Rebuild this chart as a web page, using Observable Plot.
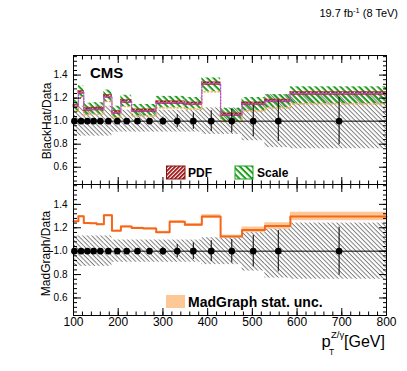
<!DOCTYPE html>
<html><head><meta charset="utf-8">
<script src="https://cdn.jsdelivr.net/npm/d3@7"></script>
<script src="https://cdn.jsdelivr.net/npm/@observablehq/plot@0.6"></script>
<style>
body{margin:0;background:#fff;}
#c{position:relative;width:407px;height:371px;overflow:hidden;font-family:"Liberation Sans",Arial,Helvetica,sans-serif;}
#c > svg{position:absolute;left:0;}
</style></head><body><div id="c"></div>
<script>
// ---- data ----
const binEdges   = [100,111,123,137,152,168,186,206,230,256,285,315,349,387,429,477,528,585,800];
const dataPt     = [102,117,131,145,160,178,198,219,243,270,300,332,368,408,454,502,558,694];
const dataRatio  = [1,1,1,1,1,1,1,1,1,1,1,1,1,1,1,1,1,1];
const dataStat   = [0.005,0.006,0.007,0.008,0.009,0.01,0.012,0.016,0.02,0.023,0.034,0.057,0.071,0.09,0.1,0.134,0.177,0.205];
const dataSyst   = [0.13,0.13,0.13,0.13,0.13,0.13,0.095,0.095,0.095,0.095,0.095,0.095,0.095,0.115,0.115,0.17,0.23,0.24];
const blackhat   = [1.13,1.25,1.10,1.105,1.105,1.215,1.075,1.17,1.09,1.09,1.16,1.16,1.15,1.325,1.055,1.15,1.175,1.24];
const pdfErr     = [0.012,0.012,0.012,0.012,0.012,0.012,0.012,0.012,0.012,0.012,0.012,0.012,0.012,0.012,0.012,0.012,0.012,0.012];
const scaleUp    = [0.055,0.058,0.055,0.055,0.055,0.055,0.055,0.055,0.055,0.055,0.055,0.055,0.055,0.05,0.055,0.055,0.055,0.058];
const scaleDown  = [0.045,0.043,0.045,0.045,0.045,0.045,0.045,0.045,0.045,0.045,0.045,0.045,0.045,0.07,0.06,0.06,0.06,0.09];
const madgraph   = [1.256,1.299,1.241,1.238,1.231,1.308,1.174,1.211,1.199,1.194,1.162,1.251,1.225,1.296,1.125,1.182,1.215,1.297];
const madgraphStat = [0.004,0.004,0.004,0.004,0.005,0.005,0.005,0.006,0.006,0.007,0.008,0.01,0.012,0.016,0.012,0.024,0.028,0.036];
const yTickLabels = [0.6,0.8,1.0,1.2,1.4];
const xTickLabels = [100,200,300,400,500,600,700,800];

const yMinor = d3.range(12,40).map(k => +(k*0.04).toFixed(2));
const xMinor = d3.range(5,41).map(k => k*20);

const bins = binEdges.slice(0,-1).map((lo,i) => ({
  lo, hi: binEdges[i+1], x: dataPt[i], r: dataRatio[i], stat: dataStat[i], syst: dataSyst[i],
  bh: blackhat[i], pdf: pdfErr[i], sUp: scaleUp[i], sDn: scaleDown[i], mg: madgraph[i], mgs: madgraphStat[i]
}));
const step = f => bins.flatMap(b => [{x: b.lo, y: f(b)}, {x: b.hi, y: f(b)}]);

const FONT = '"Liberation Sans", Arial, Helvetica, sans-serif';
function axes(withXLabels) {
  return [
    Plot.axisY(yTickLabels, {anchor:"left", tickSize:0, tickPadding:6, tickFormat:d3.format(".1f"), fontSize:10, label:null}),
    Plot.axisY(yTickLabels, {anchor:"left", tickSize:-8, fill:"none", label:null}),
    Plot.axisY(yMinor, {anchor:"left", tickSize:-4, fill:"none", label:null}),
    Plot.axisY(yTickLabels, {anchor:"right", tickSize:-8, fill:"none", label:null}),
    Plot.axisY(yMinor, {anchor:"right", tickSize:-4, fill:"none", label:null}),
    Plot.axisX(xTickLabels, {anchor:"bottom", tickSize:-7, fill:"none", label:null}),
    Plot.axisX(xMinor, {anchor:"bottom", tickSize:-3.5, fill:"none", label:null}),
    Plot.axisX(xTickLabels, {anchor:"top", tickSize:-7, fill:"none", label:null}),
    Plot.axisX(xMinor, {anchor:"top", tickSize:-3.5, fill:"none", label:null}),
    withXLabels ? Plot.axisX(xTickLabels, {anchor:"bottom", tickSize:0, tickPadding:2, fontSize:12, label:null}) : null,
    Plot.frame({stroke:"black"})
  ];
}
const dataMarks = [
  Plot.ruleY([1], {stroke:"black", strokeWidth:1}),
  Plot.ruleX(bins, {x:"x", y1: d => d.r - d.stat, y2: d => d.r + d.stat, stroke:"black", strokeWidth:1}),
  Plot.dot(bins, {x:"x", y:"r", r:3.3, fill:"black", stroke:"none"})
];
const common = {
  width:407, marginLeft:73, marginRight:21,
  x:{type:"linear", domain:[100,800]},
  y:{type:"linear", domain:[0.45,1.57]},
  style:{fontFamily:FONT, color:"black", background:"none", overflow:"visible"}
};

const topPlot = Plot.plot({
  ...common, height:185, marginTop:55, marginBottom:1,
  marks: [
    Plot.rect(bins, {x1:"lo", x2:"hi", y1: d => d.r - d.syst, y2: d => d.r + d.syst, fill:"url(#hGray)"}),
    Plot.rect(bins, {x1:"lo", x2:"hi", y1: d => d.bh - d.sDn, y2: d => d.bh + d.sUp, fill:"url(#hGreen)"}),
    Plot.rect(bins, {x1:"lo", x2:"hi", y1: d => d.bh - d.pdf, y2: d => d.bh + d.pdf, fill:"url(#hPdf)", stroke:"#b01c1c", strokeWidth:0.6}),
    Plot.line(step(b => b.bh - b.sDn), {x:"x", y:"y", stroke:"#f0a040", strokeWidth:1.2, strokeDasharray:"1.5,2"}),
    Plot.line(step(b => b.bh), {x:"x", y:"y", stroke:"#b050d0", strokeWidth:1.3, strokeDasharray:"1.5,1.5"}),
    ...dataMarks,
    ...axes(false)
  ]
});
const bottomPlot = Plot.plot({
  ...common, height:187, marginTop:0, marginBottom:56,
  marks: [
    Plot.rect(bins, {x1:"lo", x2:"hi", y1: d => d.r - d.syst, y2: d => d.r + d.syst, fill:"url(#hGray)"}),
    Plot.rect(bins, {x1:"lo", x2:"hi", y1: d => d.mg - d.mgs, y2: d => d.mg + d.mgs, fill:"#fdc896"}),
    Plot.line(step(b => b.mg), {x:"x", y:"y", stroke:"#f5661a", strokeWidth:2}),
    ...dataMarks,
    ...axes(true)
  ]
});

const container = document.getElementById("c");
topPlot.style.top = "0px";
bottomPlot.style.top = "184px";
container.appendChild(topPlot);
container.appendChild(bottomPlot);

const overlay = `
<svg width="407" height="371" style="top:0;pointer-events:none" xmlns="http://www.w3.org/2000/svg" font-family='${FONT}'>
 <defs>
  <pattern id="hGray" width="3.2" height="3.2" patternUnits="userSpaceOnUse" patternTransform="rotate(45)">
   <line x1="0" y1="0.5" x2="3.2" y2="0.5" stroke="#707070" stroke-width="0.9"/>
  </pattern>
  <pattern id="hGreen" width="4.4" height="4.4" patternUnits="userSpaceOnUse" patternTransform="rotate(45)">
   <line x1="0" y1="1" x2="4.4" y2="1" stroke="#1f9e1f" stroke-width="2"/>
  </pattern>
  <pattern id="hPdf" width="2.8" height="2.8" patternUnits="userSpaceOnUse" patternTransform="rotate(-45)">
   <line x1="0" y1="0.9" x2="2.8" y2="0.9" stroke="#a01818" stroke-width="1.8"/>
  </pattern>
 </defs>
 <text x="398" y="16.5" font-size="11" text-anchor="end">19.7 fb<tspan font-size="7.5" dy="-4">-1</tspan><tspan dy="4"> (8 TeV)</tspan></text>
 <text x="90" y="78" font-size="15" font-weight="bold">CMS</text>
 <rect x="166.5" y="166" width="18.5" height="13" fill="url(#hPdf)" stroke="#8b1010"/>
 <text x="188" y="176.5" font-size="12" font-weight="bold">PDF</text>
 <rect x="235" y="166" width="18" height="13" fill="url(#hGreen)" stroke="#1f9e1f"/>
 <text x="257" y="176.5" font-size="12" font-weight="bold">Scale</text>
 <rect x="166" y="295" width="19" height="13" fill="#fdc896"/>
 <text x="188" y="306.5" font-size="14" font-weight="bold">MadGraph stat. unc.</text>
 <text transform="translate(51,121) rotate(-90)" font-size="12" text-anchor="middle">BlackHat/Data</text>
 <text transform="translate(50,253.5) rotate(-90)" font-size="12" text-anchor="middle">MadGraph/Data</text>
 <text x="321.5" y="347" font-size="16.5">p</text>
 <text x="329" y="355" font-size="8.5">T</text>
 <text x="331" y="337.5" font-size="9.5">Z/γ</text>
 <text x="344" y="347" font-size="16">[GeV]</text>
</svg>`;
container.insertAdjacentHTML("beforeend", overlay);
</script>
</body></html>
